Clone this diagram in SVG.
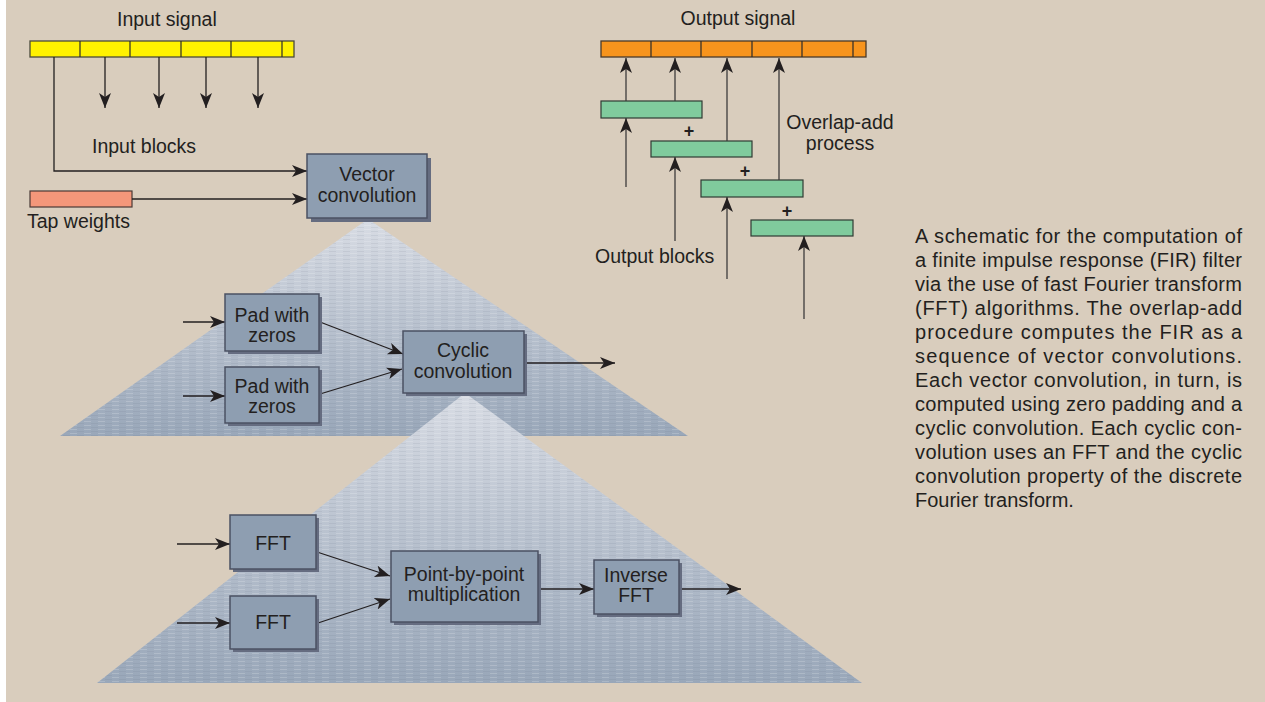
<svg xmlns="http://www.w3.org/2000/svg" width="1265" height="702" viewBox="0 0 1265 702">
<style>
text{font-family:"Liberation Sans",Arial,sans-serif;fill:#231f20}
.lbl{font-size:19.5px}
.mid{text-anchor:middle}
.box{fill:#8e9eb1;stroke:#4b5163;stroke-width:1.5}
.shd{fill:#656c80}
.cn{fill:none;stroke:#231f20;stroke-width:1.3;marker-end:url(#ah)}
.cg{fill:none;stroke:#3d3b3b;stroke-width:1.3;marker-end:url(#ah)}
.seg{stroke:#2b2b2b;stroke-width:1.2}
.grn{fill:#80cb9d;stroke:#2f3b33;stroke-width:1.2}
.para{font-size:20px}
.plus{font-size:18px;font-weight:bold}
</style>
<defs>
<marker id="ah" markerUnits="userSpaceOnUse" markerWidth="17" markerHeight="14" refX="15" refY="6" orient="auto">
<path d="M0,0 L15,6 L0,12 L4,6 Z" fill="#231f20"/>
</marker>
<linearGradient id="g1" x1="0" y1="0" x2="0" y2="1">
<stop offset="0" stop-color="#d8dce4"/>
<stop offset="1" stop-color="#99a7b9"/>
</linearGradient>
<pattern id="tex" width="14" height="4" patternUnits="userSpaceOnUse">
<line x1="0" y1="1.5" x2="7" y2="1.5" stroke="#ffffff" stroke-opacity="0.18" stroke-width="1"/>
<line x1="7" y1="3.5" x2="14" y2="3.5" stroke="#5a6478" stroke-opacity="0.10" stroke-width="1"/>
</pattern>
</defs>
<rect x="0" y="0" width="1265" height="702" fill="#ffffff"/>
<rect x="6" y="0" width="1259" height="702" fill="#d9cdbd"/>

<g id="pyramids">
<polygon points="368,219 60,436 688,436" fill="url(#g1)"/>
<polygon points="368,219 60,436 688,436" fill="url(#tex)"/>
<polygon points="465,393 97,683 862,683" fill="url(#g1)"/>
<polygon points="465,393 97,683 862,683" fill="url(#tex)"/>
</g>

<g id="input-signal">
<rect x="30" y="41" width="264" height="16" fill="#fff200" stroke="#4a4a3a" stroke-width="1.3"/>
<line class="seg" x1="80" y1="41" x2="80" y2="57"/>
<line class="seg" x1="130" y1="41" x2="130" y2="57"/>
<line class="seg" x1="181" y1="41" x2="181" y2="57"/>
<line class="seg" x1="231" y1="41" x2="231" y2="57"/>
<line class="seg" x1="282" y1="41" x2="282" y2="57"/>
<text class="lbl" x="117" y="26">Input signal</text>
</g>
<text class="lbl" x="92" y="153">Input blocks</text>

<g id="tap-weights">
<rect x="30" y="191" width="102" height="16" fill="#f4977a" stroke="#4a3a35" stroke-width="1.2"/>
<text class="lbl" x="27" y="228">Tap weights</text>
</g>

<g id="output-signal">
<rect x="601" y="41" width="265" height="16" fill="#f7941d" stroke="#4a3a2a" stroke-width="1.3"/>
<line class="seg" x1="651" y1="41" x2="651" y2="57"/>
<line class="seg" x1="701" y1="41" x2="701" y2="57"/>
<line class="seg" x1="752" y1="41" x2="752" y2="57"/>
<line class="seg" x1="802" y1="41" x2="802" y2="57"/>
<line class="seg" x1="853" y1="41" x2="853" y2="57"/>
<text class="lbl mid" x="738" y="25">Output signal</text>
</g>

<g id="output-blocks">
<rect class="grn" x="601" y="101" width="101" height="17"/>
<rect class="grn" x="651" y="141" width="101" height="16"/>
<rect class="grn" x="701" y="180" width="102" height="17"/>
<rect class="grn" x="751" y="220" width="102" height="16"/>
<text x="689" y="137" class="plus mid">+</text>
<text x="745" y="177" class="plus mid">+</text>
<text x="787" y="217" class="plus mid">+</text>
<text class="lbl" x="595" y="263">Output blocks</text>
<text class="lbl mid" x="840" y="129">Overlap-add</text>
<text class="lbl mid" x="840" y="150">process</text>
</g>

<g id="connectors">
<path class="cn" d="M54,57 V171 H307"/>
<path class="cn" d="M132,199 H307"/>
<path class="cn" d="M105,57 V108"/>
<path class="cn" d="M159,57 V108"/>
<path class="cn" d="M206,57 V108"/>
<path class="cn" d="M258,57 V108"/>
<path class="cg" d="M626,101 V58"/>
<path class="cg" d="M675,101 V58"/>
<path class="cg" d="M727,141 V58"/>
<path class="cg" d="M779,180 V58"/>
<path class="cg" d="M626,187 V118"/>
<path class="cg" d="M675,241 V157"/>
<path class="cg" d="M727,279 V197"/>
<path class="cg" d="M804,319 V236"/>
<path class="cn" d="M183,322 H225"/>
<path class="cn" d="M183,396 H225"/>
<path class="cn" d="M320,322 L403,354"/>
<path class="cn" d="M320,394 L402,369"/>
<path class="cn" d="M525,363 H615"/>
<path class="cn" d="M177,544 H230"/>
<path class="cn" d="M177,623 H230"/>
<path class="cn" d="M317,552 L390,576"/>
<path class="cn" d="M318,623 L390,599"/>
<path class="cn" d="M539,589 H594"/>
<path class="cn" d="M680,589 H741"/>
</g>

<g id="vector-convolution">
<rect class="shd" x="311" y="158" width="120" height="64"/>
<rect class="box" x="307" y="154" width="120" height="64"/>
<text class="lbl mid" x="367" y="181">Vector</text>
<text class="lbl mid" x="367" y="202">convolution</text>
</g>

<g id="pad-zeros-1">
<rect class="shd" x="228" y="297" width="94" height="57"/>
<rect class="box" x="225" y="294" width="94" height="57"/>
<text class="lbl mid" x="272" y="322">Pad with</text>
<text class="lbl mid" x="272" y="342">zeros</text>
</g>

<g id="pad-zeros-2">
<rect class="shd" x="228" y="370" width="94" height="56"/>
<rect class="box" x="225" y="367" width="94" height="56"/>
<text class="lbl mid" x="272" y="393">Pad with</text>
<text class="lbl mid" x="272" y="413">zeros</text>
</g>

<g id="cyclic-convolution">
<rect class="shd" x="406" y="334" width="121" height="62"/>
<rect class="box" x="403" y="331" width="121" height="62"/>
<text class="lbl mid" x="463" y="357">Cyclic</text>
<text class="lbl mid" x="463" y="378">convolution</text>
</g>

<g id="fft-1">
<rect class="shd" x="233" y="518" width="86" height="54"/>
<rect class="box" x="230" y="515" width="86" height="54"/>
<text class="lbl mid" x="273" y="550">FFT</text>
</g>

<g id="fft-2">
<rect class="shd" x="233" y="599" width="86" height="53"/>
<rect class="box" x="230" y="596" width="86" height="53"/>
<text class="lbl mid" x="273" y="629">FFT</text>
</g>

<g id="point-by-point">
<rect class="shd" x="394" y="554" width="147" height="71"/>
<rect class="box" x="391" y="551" width="147" height="71"/>
<text class="lbl mid" x="464" y="581">Point-by-point</text>
<text class="lbl mid" x="464" y="601">multiplication</text>
</g>

<g id="inverse-fft">
<rect class="shd" x="597" y="563" width="85" height="54"/>
<rect class="box" x="594" y="560" width="85" height="54"/>
<text class="lbl mid" x="636" y="582">Inverse</text>
<text class="lbl mid" x="636" y="602">FFT</text>
</g>

<g id="caption" class="para">
<text class="para" x="915" y="243" textLength="327" lengthAdjust="spacing">A schematic for the computation of</text>
<text class="para" x="915" y="267" textLength="327" lengthAdjust="spacing">a finite impulse response (FIR) filter</text>
<text class="para" x="915" y="291" textLength="327" lengthAdjust="spacing">via the use of fast Fourier transform</text>
<text class="para" x="915" y="315" textLength="327" lengthAdjust="spacing">(FFT) algorithms. The overlap-add</text>
<text class="para" x="915" y="339" textLength="327" lengthAdjust="spacing">procedure computes the FIR as a</text>
<text class="para" x="915" y="363" textLength="327" lengthAdjust="spacing">sequence of vector convolutions.</text>
<text class="para" x="915" y="387" textLength="327" lengthAdjust="spacing">Each vector convolution, in turn, is</text>
<text class="para" x="915" y="411" textLength="327" lengthAdjust="spacing">computed using zero padding and a</text>
<text class="para" x="915" y="435" textLength="327" lengthAdjust="spacing">cyclic convolution. Each cyclic con-</text>
<text class="para" x="915" y="459" textLength="327" lengthAdjust="spacing">volution uses an FFT and the cyclic</text>
<text class="para" x="915" y="483" textLength="327" lengthAdjust="spacing">convolution property of the discrete</text>
<text class="para" x="915" y="507">Fourier transform.</text>
</g>
</svg>
